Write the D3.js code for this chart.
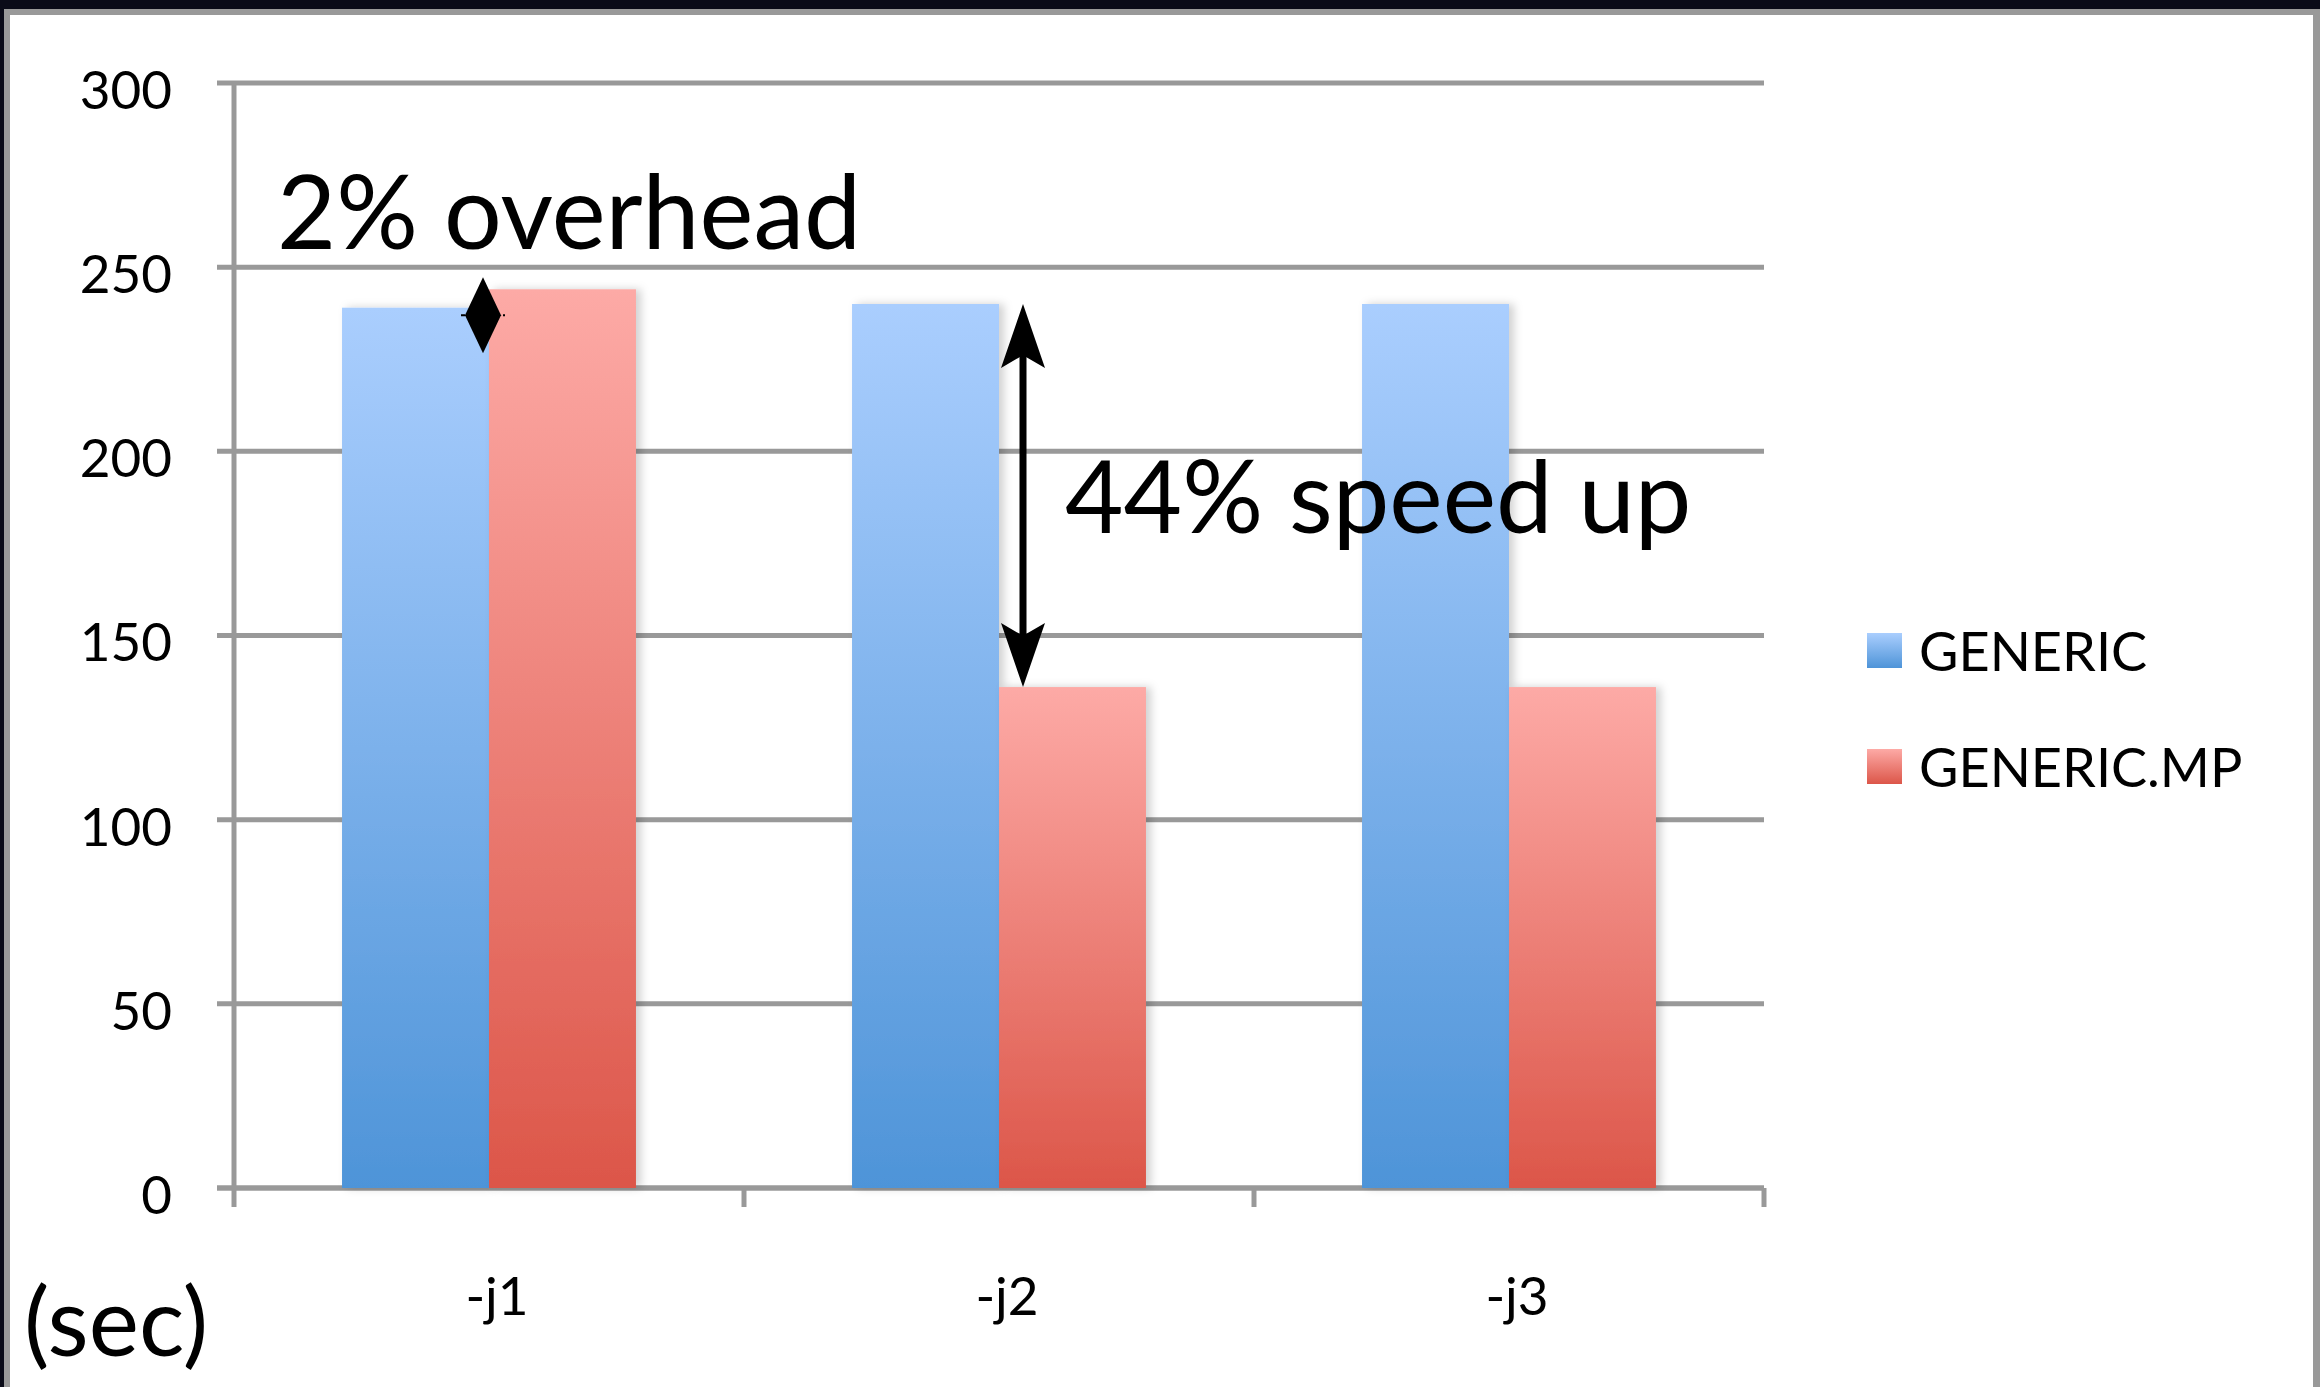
<!DOCTYPE html>
<html>
<head>
<meta charset="utf-8">
<script src="https://cdn.jsdelivr.net/npm/d3@7"></script>
<style>
  html, body { margin: 0; padding: 0; background: #0a0b18; }
  svg { display: block; }
  .tick text { font-family: Lato, "Open Sans", sans-serif; fill: #000; }
</style>
</head>
<body>
<svg id="chart" width="2320" height="1387"></svg>
<script>
// data
var categories = ["-j1", "-j2", "-j3"];
var seriesNames = ["GENERIC", "GENERIC.MP"];
var generic = [239, 240, 240];
var genericMp = [244, 136, 136];
var yTicks = [0, 50, 100, 150, 200, 250, 300];

var svg = d3.select("#chart");
var W = 2320, H = 1387;

// slide frame
svg.append("rect").attr("width", W).attr("height", H).attr("fill", "#0a0b18");
svg.append("rect").attr("x", 4).attr("y", 9).attr("width", W - 4).attr("height", H).attr("fill", "#999");
svg.append("rect").attr("x", 10).attr("y", 15).attr("width", 2303).attr("height", H).attr("fill", "#fff");

var defs = svg.append("defs");
function grad(id, top, bottom) {
    var g = defs.append("linearGradient").attr("id", id)
        .attr("x1", 0).attr("y1", 0).attr("x2", 0).attr("y2", 1);
    g.append("stop").attr("offset", "0%").attr("stop-color", top);
    g.append("stop").attr("offset", "100%").attr("stop-color", bottom);
}
grad("gBlue", "#aacefe", "#4e94d8");
grad("gRed", "#fdaaa6", "#dc5649");
var colors = ["url(#gBlue)", "url(#gRed)"];

var shadow = defs.append("filter").attr("id", "shadow")
    .attr("x", "-20%").attr("y", "-5%").attr("width", "140%").attr("height", "110%");
shadow.append("feDropShadow").attr("dx", 5).attr("dy", 0).attr("stdDeviation", 4)
    .attr("flood-color", "#000").attr("flood-opacity", 0.18);

var margin = { left: 234, top: 83, right: 2320 - 1764, bottom: 1387 - 1188 };
var width = W - margin.left - margin.right;
var height = H - margin.top - margin.bottom;

var g = svg.append("g").attr("transform", "translate(" + margin.left + "," + margin.top + ")");

var x0 = d3.scaleBand().domain(categories).range([0, width]).padding(0);
var x1 = d3.scaleBand().domain(seriesNames).range([0, x0.bandwidth()]).paddingInner(0).paddingOuter(0.735);
var y = d3.scaleLinear().domain([0, 300]).range([height, 0]);

// gridlines (they also reach left past the axis as ticks)
g.selectAll(".grid").data(yTicks).enter().append("line")
    .attr("class", "grid")
    .attr("x1", -17).attr("x2", width)
    .attr("y1", function (d) { return y(d); }).attr("y2", function (d) { return y(d); })
    .attr("stroke", "#999").attr("stroke-width", 5);

// y axis
var yAxis = d3.axisLeft(y).tickValues(yTicks).tickSize(17).tickPadding(45);
var yg = g.append("g").call(yAxis);
yg.select(".domain").attr("stroke", "#999").attr("stroke-width", 5).attr("d", "M0," + y(300) + "V" + y(0));
yg.selectAll(".tick line").remove();
yg.selectAll(".tick text").style("font-size", "53px").attr("dy", "0.48em");

// x axis
var xAxis = d3.axisBottom(x0).tickSize(0).tickPadding(89);
var xg = g.append("g").attr("transform", "translate(0," + height + ")").call(xAxis);
xg.select(".domain").attr("stroke", "#999").attr("stroke-width", 5).attr("d", "M-17,0H" + width);
xg.selectAll(".tick text").style("font-size", "53px").attr("dx", "0.15em");
var bounds = categories.map(function (c) { return x0(c); }).concat([width]);
xg.selectAll(".bound").data(bounds).enter().append("line")
    .attr("x1", function (d) { return d; }).attr("x2", function (d) { return d; })
    .attr("y1", 0).attr("y2", 19)
    .attr("stroke", "#999").attr("stroke-width", 5);

// bars
var rows = categories.map(function (c, i) {
    return { cat: c, vals: [generic[i], genericMp[i]] };
});
var groups = g.selectAll(".grp").data(rows).enter().append("g")
    .attr("transform", function (d) { return "translate(" + x0(d.cat) + ",0)"; });
groups.selectAll("rect")
    .data(function (d) { return d.vals.map(function (v, k) { return { s: seriesNames[k], v: v, k: k }; }); })
    .enter().append("rect")
    .attr("x", function (d) { return x1(d.s); })
    .attr("width", x1.bandwidth())
    .attr("y", function (d) { return y(d.v); })
    .attr("height", function (d) { return height - y(d.v); })
    .attr("fill", function (d) { return colors[d.k]; })
    .attr("filter", "url(#shadow)");

// annotations
function dblArrow(sel, cx, yTop, yBot, headLen, headW, lineW) {
    sel.append("line").attr("x1", cx).attr("x2", cx)
        .attr("y1", yTop + headLen * 0.6).attr("y2", yBot - headLen * 0.6)
        .attr("stroke", "#000").attr("stroke-width", lineW);
    var hw = headW / 2;
    sel.append("path").attr("fill", "#000").attr("d",
        "M" + cx + "," + yTop + "L" + (cx + hw) + "," + (yTop + headLen) +
        "L" + cx + "," + (yTop + headLen * 0.8) + "L" + (cx - hw) + "," + (yTop + headLen) + "Z");
    sel.append("path").attr("fill", "#000").attr("d",
        "M" + cx + "," + yBot + "L" + (cx + hw) + "," + (yBot - headLen) +
        "L" + cx + "," + (yBot - headLen * 0.8) + "L" + (cx - hw) + "," + (yBot - headLen) + "Z");
}

var ann = g.append("g");
// small arrow between the -j1 bars (two heads meeting)
var j1Mid = x0("-j1") + x1("GENERIC.MP") - 6;
var ay = y(genericMp[0]);
ann.append("path").attr("fill", "#000").attr("d",
    "M" + j1Mid + "," + (ay - 12) + "L" + (j1Mid + 18) + "," + (ay + 26) +
    "L" + j1Mid + "," + (ay + 64) + "L" + (j1Mid - 18) + "," + (ay + 26) + "Z");
ann.append("line").attr("x1", j1Mid - 22).attr("x2", j1Mid + 22)
    .attr("y1", ay + 26).attr("y2", ay + 26)
    .attr("stroke", "#000").attr("stroke-width", 2).attr("stroke-dasharray", "4,3");

// big arrow at -j2
var j2x = x0("-j2") + x1("GENERIC.MP") + 24;
dblArrow(ann, j2x, y(generic[1]), y(genericMp[1]), 64, 44, 7);

ann.append("text").attr("x", 277 - margin.left).attr("y", 249 - margin.top)
    .style("font-family", "Lato, sans-serif").style("font-size", "102px").text("2% overhead");
ann.append("text").attr("x", 1065 - margin.left).attr("y", 533 - margin.top)
    .style("font-family", "Lato, sans-serif").style("font-size", "101px").text("44% speed up");

svg.append("text").attr("x", 24).attr("y", 1356)
    .style("font-family", "Lato, sans-serif").style("font-size", "95px").text("(sec)");

// legend
var legend = svg.append("g").attr("transform", "translate(1867,633)");
var li = legend.selectAll(".li").data(seriesNames).enter().append("g")
    .attr("transform", function (d, i) { return "translate(0," + i * 116 + ")"; });
li.append("rect").attr("width", 35).attr("height", 35)
    .attr("fill", function (d, i) { return colors[i]; });
li.append("text").attr("x", 52).attr("y", 38)
    .style("font-family", "Lato, sans-serif").style("font-size", "54px").text(function (d) { return d; });
</script>
</body>
</html>
